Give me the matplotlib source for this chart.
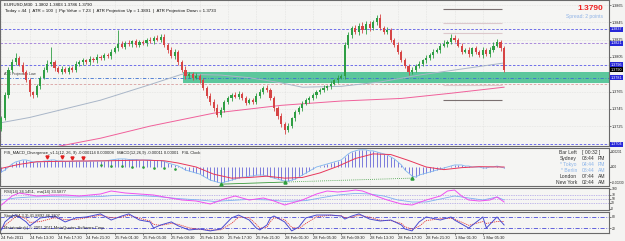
import matplotlib
matplotlib.use('Agg')
import matplotlib.pyplot as plt
import matplotlib.transforms as mtransforms
import numpy as np

plt.rcParams['font.family'] = ['Liberation Sans', 'DejaVu Sans']

# ---------------- data ----------------
first_open = 1.3722
closes = [1.3734, 1.3761, 1.3790, 1.3799, 1.3804, 1.3796, 1.3788, 1.3778, 1.3764, 1.3761,
          1.3771, 1.3781, 1.3790, 1.3797, 1.3799, 1.3792, 1.3788, 1.3791, 1.3788, 1.3792,
          1.3790, 1.3797, 1.3799, 1.3801, 1.3799, 1.3803, 1.3801, 1.3805, 1.3804, 1.3807,
          1.3806, 1.3811, 1.3815, 1.3820, 1.3817, 1.3821, 1.3820, 1.3823, 1.3819, 1.3822,
          1.3821, 1.3825, 1.3823, 1.3827, 1.3825, 1.3828, 1.3819, 1.3813, 1.3806, 1.3811,
          1.3799, 1.3790, 1.3783, 1.3785, 1.3781, 1.3783, 1.3778, 1.3769, 1.3760, 1.3753,
          1.3746, 1.3738, 1.3744, 1.3753, 1.3757, 1.3761, 1.3759, 1.3762, 1.3757, 1.3752,
          1.3755, 1.3753, 1.3760, 1.3764, 1.3769, 1.3767, 1.3757, 1.3746, 1.3737, 1.3727,
          1.3721, 1.3725, 1.3734, 1.3741, 1.3746, 1.3751, 1.3755, 1.3757, 1.3761, 1.3764,
          1.3767, 1.3769, 1.3771, 1.3774, 1.3778, 1.3781, 1.3783, 1.3819, 1.3830, 1.3838,
          1.3834, 1.3841, 1.3836, 1.3843, 1.3838, 1.3845, 1.3850, 1.3838, 1.3834, 1.3836,
          1.3825, 1.3819, 1.3811, 1.3801, 1.3795, 1.3788, 1.3790, 1.3795, 1.3797, 1.3801,
          1.3804, 1.3807, 1.3811, 1.3813, 1.3818, 1.3820, 1.3822, 1.3827, 1.3825, 1.3818,
          1.3811, 1.3813, 1.3808, 1.3815, 1.3811, 1.3807, 1.3813, 1.3808, 1.3813, 1.3818,
          1.3822, 1.3815, 1.3790]
upper_wick_pips = [3, 4, 3, 4, 5, 2, 3, 2, 3, 2, 3, 2, 3, 4, 18, 2, 3, 3, 2, 3,
                   2, 3, 2, 3, 2, 3, 2, 3, 2, 3, 2, 3, 3, 16, 3, 2, 3, 2, 3, 2,
                   3, 2, 3, 2, 3, 4, 3, 2, 4, 3, 2, 3, 4, 3, 2, 3, 2, 3, 2, 3,
                   3, 4, 3, 2, 3, 2, 3, 4, 2, 3, 2, 3, 3, 4, 2, 3, 2, 3, 2, 3,
                   3, 4, 2, 3, 2, 3, 2, 3, 2, 3, 2, 3, 2, 3, 2, 3, 2, 3, 4, 3,
                   4, 3, 4, 3, 4, 3, 4, 5, 3, 4, 3, 2, 3, 2, 3, 2, 3, 2, 3, 2,
                   3, 2, 3, 2, 3, 4, 3, 5, 3, 2, 3, 2, 3, 2, 3, 2, 3, 2, 3, 4,
                   4, 2, 3]
lower_wick_pips = [3, 2, 3, 2, 3, 2, 3, 2, 4, 3, 2, 3, 2, 3, 2, 3, 2, 3, 2, 3,
                   2, 3, 2, 3, 2, 3, 2, 3, 2, 3, 2, 3, 2, 3, 2, 3, 2, 3, 2, 3,
                   2, 3, 2, 3, 2, 3, 2, 3, 2, 3, 3, 2, 3, 2, 3, 2, 3, 2, 3, 4,
                   4, 3, 2, 3, 2, 3, 2, 3, 2, 3, 2, 3, 2, 3, 2, 3, 2, 3, 4, 3,
                   5, 3, 2, 3, 2, 3, 2, 3, 2, 3, 2, 3, 2, 3, 2, 3, 2, 3, 4, 3,
                   3, 4, 3, 4, 3, 2, 3, 2, 3, 2, 3, 2, 3, 2, 3, 4, 3, 2, 3, 2,
                   3, 2, 3, 2, 3, 2, 3, 2, 3, 2, 3, 2, 3, 2, 3, 2, 3, 2, 3, 2,
                   2, 3, 2]

grey_ma_idx = [0, 8, 17, 28, 42, 51, 62, 70, 79, 85, 96, 107, 118, 130, 142]
grey_ma = [1.3729, 1.3735, 1.3744, 1.3755, 1.3773, 1.3785, 1.3784, 1.3781, 1.3775,
           1.3770, 1.3771, 1.3776, 1.3784, 1.3791, 1.3798]
red_ma_idx = [14, 28, 42, 60, 79, 96, 113, 127, 142]
red_ma = [1.3700, 1.3711, 1.3725, 1.3740, 1.3749, 1.3754, 1.3757, 1.3763, 1.3770]

level_blue = [1.3837, 1.3796, 1.3704]
level_purple = 1.3821
level_cyan = 1.3781
level_pink = 1.3774
band_low, band_high, band_start = 1.3775, 1.3788, 51.4
short_levels_dark = [1.3860, 1.3755]
short_levels_light = [1.3844, 1.3833, 1.3773]
short_start, short_end = 124.6, 141.5
price_ticks = [1.3865, 1.3845, 1.3825, 1.3805, 1.3765, 1.3745, 1.3725]
blue_labels = [1.3837, 1.3821, 1.3796, 1.3781, 1.3704]
bid = 1.3790

time_labels = ["24 Feb 2011", "24 Feb 13:30", "24 Feb 17:30", "24 Feb 21:30", "25 Feb 01:30",
               "25 Feb 05:30", "25 Feb 09:30", "25 Feb 13:30", "25 Feb 17:30", "25 Feb 21:30",
               "28 Feb 01:30", "28 Feb 05:30", "28 Feb 09:30", "28 Feb 13:30", "28 Feb 17:30",
               "28 Feb 21:30", "1 Mar 01:30", "1 Mar 05:30"]
bars_per_label = 8

# MACD main (1e-5 units) per bar
macd_main = [-77, -46, 0, 46, 77, 92, 108, 108, 92, 77,
             77, 77, 92, 92, 108, 108, 92, 92, 85, 85,
             85, 92, 92, 92, 85, 92, 92, 92, 92, 92,
             100, 108, 115, 123, 123, 123, 115, 115, 115, 108,
             108, 108, 108, 100, 100, 100, 85, 62, 46, 31,
             15, -15, -46, -62, -77, -92, -108, -138, -169, -200,
             -215, -231, -246, -231, -215, -200, -185, -169, -154, -154,
             -138, -138, -123, -123, -123, -138, -154, -169, -185, -200,
             -215, -215, -200, -185, -154, -123, -92, -62, -31, 0,
             15, 31, 46, 62, 77, 92, 108, 154, 200, 231,
             246, 262, 262, 262, 246, 246, 231, 215, 200, 185,
             154, 123, 77, 31, -46, -92, -138, -154, -123, -108,
             -92, -77, -62, -46, -31, -15, 0, 15, 31, 31,
             31, 15, 15, 0, 0, 0, -15, -15, 0, 0,
             15, 0, -15]
macd_sig_idx = [0, 5, 10, 20, 30, 40, 46, 50, 55, 60, 65, 70, 75, 80, 85, 90, 95, 100,
                105, 110, 115, 120, 125, 130, 135, 142]
macd_sig = [-20, 40, 80, 90, 95, 105, 95, 60, 0, -110, -170, -160, -140, -170, -160, -90,
            10, 130, 200, 190, 100, 0, -40, -10, 5, 0]
# divergence markers (bar index, 1e-5 units)
div_sell_idx = [13, 17, 20, 23]
div_sell_val = [150, 150, 140, 140]
div_buy_idx = [62, 80, 116]
div_buy_val = [-262, -230, -170]
div_dots_idx = [28, 31, 34, 37, 40, 43, 46, 49]
div_dots_val = [30, 20, 15, 5, 0, -10, -20, -30]

rsi_idx = [0, 3, 5, 10, 14, 18, 22, 28, 31, 35, 39, 43, 46, 51, 55, 59, 63, 66, 70, 74,
           77, 80, 85, 89, 92, 95, 98, 100, 102, 105, 109, 113, 116, 120, 124, 126, 128,
           130, 132, 135, 138, 140, 142]
rsi = [20, 65, 80, 65, 70, 70, 65, 75, 90, 80, 75, 70, 60, 45, 40, 25, 50, 65, 45, 55,
       40, 20, 45, 75, 90, 85, 90, 95, 90, 70, 45, 25, 20, 45, 65, 90, 95,
       65, 45, 40, 45, 60, 35]
rsi_ma_idx = [0, 4, 8, 14, 20, 28, 32, 38, 44, 50, 56, 60, 64, 70, 76, 80, 86, 90, 95,
              100, 104, 108, 112, 116, 120, 124, 128, 132, 136, 140, 142]
rsi_ma = [45, 55, 60, 62, 60, 62, 68, 68, 62, 52, 45, 38, 42, 48, 45, 38, 42, 55, 70,
          78, 75, 65, 45, 35, 35, 50, 65, 55, 45, 60, 45]

stoch_idx = [0, 1, 3, 4, 5, 7, 8, 11, 15, 18, 21, 24, 28, 31, 34, 36, 39, 42, 43, 45,
             48, 50, 53, 56, 59, 62, 65, 67, 70, 72, 73, 75, 76, 77, 80, 82, 84, 86, 89, 93,
             96, 97, 99, 101, 104, 107, 110, 113, 114, 116, 118, 120, 124, 127, 128, 132,
             136, 137, 140, 142]
stoch_main = [11, 53, 84, 89, 79, 53, 32, 74, 84, 53, 74, 79, 95, 63, 84, 95, 63, 53, 21, 37,
              53, 32, 11, 16, 6, 16, 74, 89, 63, 21, 11, 37, 74, 84, 53, 6, 26, 74, 89, 89,
              84, 68, 84, 95, 68, 58, 63, 37, 16, 6, 53, 79, 63, 79, 63, 21, 79, 21, 79, 37]
stoch_signal = [20, 35, 65, 80, 84, 70, 50, 55, 75, 65, 65, 75, 88, 75, 78, 88, 72, 58, 40, 35,
                45, 40, 22, 14, 10, 12, 45, 78, 75, 40, 20, 25, 55, 75, 65, 25, 18, 45, 80, 88,
                86, 75, 78, 88, 78, 62, 60, 45, 28, 14, 30, 60, 70, 72, 68, 35, 55, 45, 55, 55]

# ---------------- layout helpers ----------------
W, H = 625, 241
fig = plt.figure(figsize=(W / 100, H / 100), dpi=100)
fig.patch.set_facecolor('#f4f4f2')
RIGHT = 609
PX = 3.54
XL = (-0.4, RIGHT / PX - 0.4)
LAB = 2.7


def rect(x0, y0, x1, y1):
    return [x0 / W, 1 - y1 / H, (x1 - x0) / W, (y1 - y0) / H]


def style(ax, labsize=LAB):
    ax.set_facecolor('#f5f5f3')
    ax.set_xlim(*XL)
    for s in ax.spines.values():
        s.set_color('#6a6a6a')
        s.set_linewidth(0.8)
    ax.tick_params(axis='x', bottom=False, labelbottom=False)
    ax.yaxis.tick_right()
    ax.tick_params(axis='y', length=1.2, width=0.4, pad=0.5, labelsize=labsize, colors='#222222')
    for k in range(len(time_labels)):
        ax.axvline(k * bars_per_label, color='#d2d2d2', lw=0.4, ls=(0, (1, 2)), zorder=0)


# ---------------- main price chart ----------------
ax = fig.add_axes(rect(0, 0, RIGHT, 146))
style(ax)
ax.set_ylim(1.3702, 1.38708)
ax.set_yticks(price_ticks)
ax.set_yticklabels([f"{p:.4f}" for p in price_ticks])
for p in price_ticks:
    ax.axhline(p, color='#d2d2d2', lw=0.4, ls=(0, (1, 2)), zorder=0)

n = len(closes)
idx = np.arange(n)
c = np.array(closes)
o = np.array([first_open] + closes[:-1])
hi = np.maximum(o, c) + np.array(upper_wick_pips) * 0.0001
lo = np.minimum(o, c) - np.array(lower_wick_pips) * 0.0001
up = c >= o
cols = np.where(up, '#2f9e44', '#d64545')

# band and levels
ax.fill_between([band_start, XL[1]], band_low, band_high, color='#5cc79c', zorder=1, lw=0)
for lv in level_blue:
    ax.axhline(lv, color='#5a5ae6', lw=0.6, ls=(0, (3, 2)), zorder=2)
ax.axhline(level_purple, color='#a07ad8', lw=0.6, ls=(0, (3, 2)), zorder=2)
ax.axhline(level_cyan, color='#3b6fd0', lw=0.6, ls=(0, (4, 2, 1, 2)), zorder=2)
ax.axhline(level_pink, color='#d9a0a0', lw=0.6, ls=(0, (3, 2)), zorder=2)
ax.hlines(short_levels_dark, short_start, short_end, color='#7a7070', lw=0.8, zorder=2)
ax.hlines(short_levels_light, short_start, short_end, color='#dcc8cc', lw=0.8, zorder=2)

ax.plot(grey_ma_idx, grey_ma, color='#a9b6c8', lw=0.7, zorder=3)
ax.plot(red_ma_idx, red_ma, color='#f0609a', lw=0.7, zorder=3)

ax.vlines(idx, lo, hi, color=cols, lw=0.6, zorder=4)
body_h = np.where(np.abs(c - o) < 0.00005, 0.00005, c - o)
ax.bar(idx, body_h, bottom=o, width=0.6, color=cols, lw=0, zorder=5)

blend = mtransforms.blended_transform_factory(ax.transAxes, ax.transData)
for lv in blue_labels:
    ax.text(1.003, lv, f"{lv:.4f}", transform=blend, fontsize=LAB, color='white',
            va='center', ha='left', clip_on=False,
            bbox=dict(boxstyle='square,pad=0.12', fc='#2727d8', ec='none'))
ax.text(1.003, bid, f"{bid:.4f}", transform=blend, fontsize=LAB, color='white',
        va='center', ha='left', clip_on=False,
        bbox=dict(boxstyle='square,pad=0.12', fc='#000000', ec='none'))

ax.text(0.006, 0.985, "EURUSD,M30  1.3802 1.3803 1.3786 1.3790", transform=ax.transAxes,
        fontsize=3.2, color='#111111', va='top', ha='left')
ax.text(0.008, 0.94,
        "Today = 44  |  ATR = 100  |  Pip Value = 7.23  |  ATR Projection Up = 1.3891  |  ATR Projection Down = 1.3733",
        transform=ax.transAxes, fontsize=3.2, color='#111111', va='top', ha='left')
ax.text(0.99, 0.94, f"{bid:.4f}", transform=ax.transAxes, fontsize=6, color='#ee2222',
        fontweight='bold', va='center', ha='right')
ax.text(0.99, 0.885, "Spread: 2 points", transform=ax.transAxes, fontsize=3.6,
        color='#8fb3e6', va='center', ha='right')
ax.text(0.006, 1.3785, "ATR Projection Low", transform=blend, fontsize=2.6,
        color='#333333', va='center', ha='left')

# ---------------- MACD panel ----------------
axm = fig.add_axes(rect(0, 148, RIGHT, 186))
style(axm, 2.3)
m = np.array(macd_main) * 1e-5
axm.set_ylim(-0.0029, 0.0029)
axm.set_yticks([0.00231, 0.0, -0.0023])
axm.set_yticklabels(["0.00231", "0.00", "-0.00230"])
axm.vlines(idx, 0, m, color='#7b7bdc', lw=0.7, zorder=2)
axm.plot(idx, m, color='#7fb6ee', lw=0.6, zorder=3)
axm.plot(macd_sig_idx, np.array(macd_sig) * 1e-5, color='#e8365a', lw=0.7, zorder=3)
axm.plot(div_buy_idx[:2], np.array(div_buy_val[:2]) * 1e-5, color='#3a9a3a', lw=0.6, zorder=4)
axm.plot(div_buy_idx[1:], np.array(div_buy_val[1:]) * 1e-5, color='#3a9a3a', lw=0.6,
         ls=(0, (1, 1.5)), zorder=4)
axm.plot(div_buy_idx, np.array(div_buy_val) * 1e-5, ls='none', marker='^', ms=2.2,
         color='#2e9e3e', zorder=5)
axm.plot(div_sell_idx, np.array(div_sell_val) * 1e-5, ls='none', marker='v', ms=2.2,
         color='#e02020', zorder=5)
axm.plot(div_dots_idx, np.array(div_dots_val) * 1e-5, ls='none', marker='o', ms=0.9,
         color='#2e9e3e', zorder=5)
axm.text(0.006, 0.88,
         "FIS_MACD_Divergence_v1.1(12, 26, 9) -0.000114 0.000008   MACD(12,26,9) -0.00011 0.00001   P4L Clock",
         transform=axm.transAxes, fontsize=3.0, color='#222222', va='center', ha='left')
clock_rows = [("Bar Left", "[ 00:32 ]", "", '#333333'),
              ("Sydney", "03:44", "PM", '#333333'),
              ("* Tokyo", "04:44", "PM", '#8ab4ea'),
              ("* Berlin", "08:44", "AM", '#8ab4ea'),
              ("London", "07:44", "AM", '#333333'),
              ("New York", "02:44", "AM", '#333333')]
for k, (name, t, ap, col) in enumerate(clock_rows):
    yy = 1 - (152.5 + 6.1 * k - 148) / 38
    axm.text(577 / RIGHT, yy, name, transform=axm.transAxes, fontsize=3.6, color=col,
             ha='right', va='center', clip_on=False)
    axm.text(582 / RIGHT, yy, t, transform=axm.transAxes, fontsize=3.6, color=col,
             ha='left', va='center', clip_on=False)
    if ap:
        axm.text(598 / RIGHT, yy, ap, transform=axm.transAxes, fontsize=3.6, color=col,
                 ha='left', va='center', clip_on=False)

# ---------------- RSI panel ----------------
axr = fig.add_axes(rect(0, 188, RIGHT, 210))
style(axr, 2.4)
axr.set_ylim(-5, 105)
axr.set_yticks([100, 70, 50, 30, 0])
axr.set_yticklabels(["100", "70", "50", "30", "0"])
for lv in (70, 50, 30):
    axr.axhline(lv, color='#8c7be0', lw=0.5, ls=(0, (1, 1.5)), zorder=1)
axr.plot(rsi_ma_idx, rsi_ma, color='#7fb0f0', lw=0.6, zorder=2)
axr.plot(rsi_idx, rsi, color='#f050f0', lw=0.7, zorder=3)
axr.text(0.006, 0.8, "RSI(14) 34.1451,  ma(14) 33.5877", transform=axr.transAxes,
         fontsize=3.0, color='#222222', va='center', ha='left')

# ---------------- Stochastic panel ----------------
axs = fig.add_axes(rect(0, 212, RIGHT, 233))
style(axs, 2.4)
axs.set_ylim(-5, 105)
axs.set_yticks([80, 20])
axs.set_yticklabels(["80", "20"])
for lv in (80, 20):
    axs.axhline(lv, color='#4a4ad8', lw=0.6, ls=(0, (5, 2, 1, 2)), zorder=1)
axs.plot(stoch_idx, stoch_main, color='#4a4ad0', lw=0.7, zorder=3)
axs.plot(stoch_idx, stoch_signal, color='#e23a3a', lw=0.6, ls=(0, (1.5, 1)), zorder=2)
axs.text(0.006, 0.8, "Stoch(14,3,3) 41.8892 46.1107", transform=axs.transAxes,
         fontsize=3.0, color='#222222', va='center', ha='left')
axs.text(0.006, 0.22, "Metatrader(r) \u00a9 2001-2011 MetaQuotes Software Corp.",
         transform=axs.transAxes, fontsize=3.0, color='#222222', va='center', ha='left')

# time labels
axs.tick_params(axis='x', bottom=True, labelbottom=True, length=1.5, width=0.4, pad=0.8,
                labelsize=2.9, colors='#222222')
axs.set_xticks([k * bars_per_label for k in range(len(time_labels))])
axs.set_xticklabels(time_labels)
for lab in axs.get_xticklabels():
    lab.set_horizontalalignment('left')

fig.savefig('out.png', dpi=100, facecolor=fig.get_facecolor())
